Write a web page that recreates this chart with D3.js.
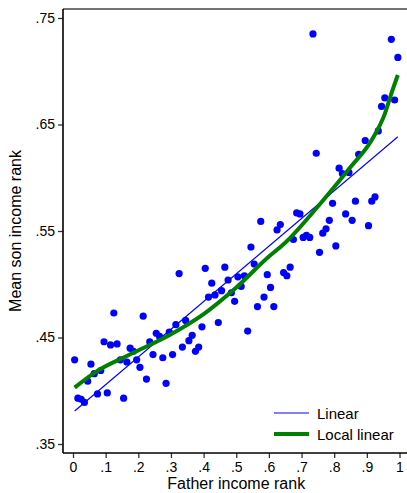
<!DOCTYPE html>
<html>
<head>
<meta charset="utf-8">
<script src="https://cdn.jsdelivr.net/npm/d3@7/dist/d3.min.js"></script>
<style>
  html, body { margin: 0; padding: 0; background: #fff; }
  svg { display: block; }
  text { font-family: "Liberation Sans", Arial, sans-serif; }
</style>
</head>
<body>
<div id="chart"></div>
<script>
// ---- data ----
const fatherRank = [
  0.005, 0.015, 0.025, 0.035, 0.045, 0.055, 0.065, 0.075, 0.085, 0.095,
  0.105, 0.115, 0.125, 0.135, 0.145, 0.155, 0.165, 0.175, 0.185, 0.195,
  0.205, 0.215, 0.225, 0.235, 0.245, 0.255, 0.265, 0.275, 0.285, 0.295,
  0.305, 0.315, 0.325, 0.335, 0.345, 0.355, 0.365, 0.375, 0.385, 0.395,
  0.405, 0.415, 0.425, 0.435, 0.445, 0.455, 0.465, 0.475, 0.485, 0.495,
  0.505, 0.515, 0.525, 0.535, 0.545, 0.555, 0.565, 0.575, 0.585, 0.595,
  0.605, 0.615, 0.625, 0.635, 0.645, 0.655, 0.665, 0.675, 0.685, 0.695,
  0.705, 0.715, 0.725, 0.735, 0.745, 0.755, 0.765, 0.775, 0.785, 0.795,
  0.805, 0.815, 0.825, 0.835, 0.845, 0.855, 0.865, 0.875,
  0.895, 0.905, 0.915, 0.925, 0.935, 0.945, 0.955,
  0.975, 0.985, 0.995
];
const sonRank = [
  0.429, 0.393, 0.392, 0.389, 0.409, 0.425, 0.416, 0.397, 0.419, 0.446,
  0.398, 0.443, 0.473, 0.444, 0.429, 0.393, 0.427, 0.440, 0.437, 0.429,
  0.422, 0.470, 0.411, 0.446, 0.434, 0.454, 0.451, 0.431, 0.407, 0.455,
  0.434, 0.462, 0.510, 0.441, 0.466, 0.447, 0.452, 0.437, 0.441, 0.460,
  0.515, 0.488, 0.501, 0.490, 0.464, 0.494, 0.516, 0.504, 0.492, 0.484,
  0.507, 0.498, 0.508, 0.456, 0.535, 0.519, 0.479, 0.559, 0.488, 0.509,
  0.497, 0.479, 0.551, 0.556, 0.511, 0.508, 0.516, 0.542, 0.567, 0.566,
  0.544, 0.546, 0.544, 0.735, 0.623, 0.530, 0.548, 0.552, 0.560, 0.576,
  0.536, 0.609, 0.604, 0.566, 0.605, 0.560, 0.578, 0.622,
  0.635, 0.555, 0.578, 0.582, 0.644, 0.667, 0.675,
  0.730, 0.673, 0.713
];
// linear fit (endpoints)
const linearX = [0.005, 0.995];
const linearY = [0.381, 0.6385];
// local linear smooth
const localX = [0.005, 0.071, 0.174, 0.30, 0.40, 0.50, 0.60, 0.65, 0.75, 0.85, 0.915, 0.955, 0.975, 0.995];
const localY = [0.403, 0.418, 0.434, 0.453, 0.472, 0.497, 0.526, 0.539, 0.573, 0.610, 0.6355, 0.660, 0.679, 0.6965];
// ticks
const xTicks = [0, 0.1, 0.2, 0.3, 0.4, 0.5, 0.6, 0.7, 0.8, 0.9, 1];
const xTickLabels = ["0", ".1", ".2", ".3", ".4", ".5", ".6", ".7", ".8", ".9", "1"];
const yTicks = [0.35, 0.45, 0.55, 0.65, 0.75];
const yTickLabels = [".35", ".45", ".55", ".65", ".75"];
const legendLabels = ["Linear", "Local linear"];

// ---- layout ----
const W = 407, H = 493;
const frame = { left: 63, top: 9, bottom: 453, right: 407 };

const svg = d3.select("#chart").append("svg")
  .attr("width", W).attr("height", H);

const x = d3.scaleLinear().domain([0, 1]).range([73, 399.5]);
const y = d3.scaleLinear().domain([0.35, 0.75]).range([444, 18]);

// frame lines
svg.append("line")
  .attr("x1", frame.left).attr("x2", frame.right)
  .attr("y1", frame.top).attr("y2", frame.top)
  .attr("stroke", "#444").attr("stroke-width", 1.6);

// y axis
const yAxis = d3.axisLeft(y)
  .tickValues(yTicks)
  .tickFormat((d, i) => yTickLabels[i])
  .tickSize(5).tickPadding(3);
const gy = svg.append("g").attr("transform", `translate(${frame.left},0)`).call(yAxis);
gy.select(".domain").remove();
gy.selectAll(".tick line").attr("stroke", "#333").attr("stroke-width", 1.3);
gy.selectAll(".tick text").attr("font-size", 14).attr("fill", "#000")
  .style("font-family", '"Liberation Sans", Arial, sans-serif');

// x axis
const xAxis = d3.axisBottom(x)
  .tickValues(xTicks)
  .tickFormat((d, i) => xTickLabels[i])
  .tickSize(5).tickPadding(4);
const gx = svg.append("g").attr("transform", `translate(0,${frame.bottom})`).call(xAxis);
gx.select(".domain").remove();
gx.selectAll(".tick line").attr("stroke", "#333").attr("stroke-width", 1.3);
gx.selectAll(".tick text").attr("font-size", 14).attr("fill", "#000")
  .style("font-family", '"Liberation Sans", Arial, sans-serif');

svg.append("line")
  .attr("x1", frame.left).attr("x2", frame.right)
  .attr("y1", frame.bottom).attr("y2", frame.bottom)
  .attr("stroke", "#000").attr("stroke-width", 1.6);
svg.append("line")
  .attr("x1", frame.left).attr("x2", frame.left)
  .attr("y1", frame.top).attr("y2", frame.bottom)
  .attr("stroke", "#000").attr("stroke-width", 1.6);

// axis titles
svg.append("text")
  .attr("x", (x(0) + x(1)) / 2).attr("y", 489)
  .attr("text-anchor", "middle").attr("font-size", 16)
  .text("Father income rank");
svg.append("text")
  .attr("transform", `translate(21,${(frame.top + frame.bottom) / 2}) rotate(-90)`)
  .attr("text-anchor", "middle").attr("font-size", 16)
  .text("Mean son income rank");

// scatter points
const pts = fatherRank.map((f, i) => ({ f, s: sonRank[i] }));
svg.append("g").selectAll("circle").data(pts).join("circle")
  .attr("cx", d => x(d.f)).attr("cy", d => y(d.s))
  .attr("r", 3.6).attr("fill", "#0000ff");

// linear fit
const lin = linearX.map((v, i) => [v, linearY[i]]);
svg.append("path").datum(lin)
  .attr("d", d3.line().x(d => x(d[0])).y(d => y(d[1])))
  .attr("fill", "none").attr("stroke", "#0000ff").attr("stroke-width", 1.1);

// local linear
const loc = localX.map((v, i) => [v, localY[i]]);
svg.append("path").datum(loc)
  .attr("d", d3.line().x(d => x(d[0])).y(d => y(d[1])).curve(d3.curveMonotoneX))
  .attr("fill", "none").attr("stroke", "#008000").attr("stroke-width", 4)
  .attr("stroke-linecap", "butt");

// legend
const lg = svg.append("g");
const legendItems = [
  { label: legendLabels[0], color: "#0000ff", w: 1.1, y: 413 },
  { label: legendLabels[1], color: "#008000", w: 4, y: 434 }
];
legendItems.forEach(it => {
  lg.append("line").attr("x1", 274).attr("x2", 309)
    .attr("y1", it.y).attr("y2", it.y)
    .attr("stroke", it.color).attr("stroke-width", it.w);
  lg.append("text").attr("x", 317).attr("y", it.y + 5.5)
    .attr("font-size", 15).text(it.label);
});
</script>
</body>
</html>
